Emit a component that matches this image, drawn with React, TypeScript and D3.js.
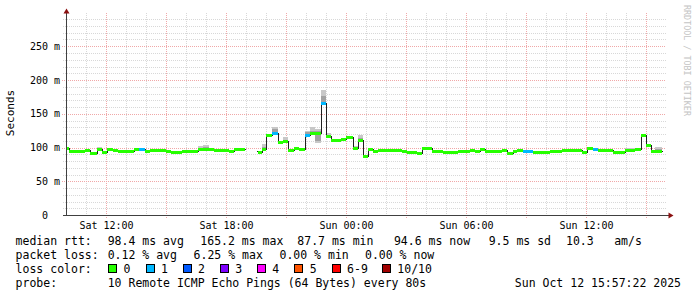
import React from 'react';
import * as d3 from 'd3';

// ---- data (hours since Sat 2025-10-11 00:00) ----
const stepStartHours = [
  9.99, 10.12, 10.66, 10.91, 11.16, 11.49, 11.74, 11.99, 12.32, 12.57,
  13.37, 13.62, 13.91, 14.16, 14.96, 15.21, 15.76, 16.54, 16.81, 17.09,
  17.34, 17.59, 18.12, 18.37, 18.62, 18.92, 19.46, 19.54, 19.76, 19.96,
  20.26, 20.54, 20.82, 21.07, 21.34, 21.59, 21.91, 22.17, 22.42, 22.71,
  22.96, 23.21, 23.71, 23.96, 24.29, 24.57, 24.79, 25.07, 25.32, 25.57,
  25.91, 26.41, 26.74, 26.99, 27.49, 27.74, 28.24, 28.82, 29.57, 30.16,
  30.41, 30.66, 30.91, 31.32, 31.74, 31.99, 32.29, 32.49, 32.79, 33.32,
  33.66, 34.16, 34.74, 35.16, 35.74, 35.99, 36.32, 36.57, 37.32, 37.91,
  38.41, 38.69, 38.96, 39.19, 39.41,
];
const lastStepEndHour = 39.74;
const medianMs: (number | null)[] = [
  99, 95.5, 94.5, 96.5, 92, 97.5, 93, 98.5, 96.5, 95.5,
  97.5, 97.5, 95, 97, 95.5, 94, 95.5, 98.5, 98.5, 98.5,
  97, 96, 95, 97.5, 98.5, null, 94.5, 94, 97.5, 119,
  121, 107.5, 109, 96, 100, 98.5, 118.5, 121, 121.5, 165.5,
  117, 111, 113, 115, 100, 111, 88, 98, 94.5, 96,
  97, 96, 95, 94, 92.5, 99, 94.5, 93, 94.5, 96,
  94.5, 97.5, 95.5, 94.5, 96, 92, 95.5, 96, 95.5, 93,
  94, 94.5, 96, 97, 93.5, 99, 97.5, 96.5, 93.5, 96,
  98.5, 118, 104, 94.5, 94.5,
];
// loss count (of 10 pings) per step; null = no loss data
const lossCount: (number | null)[] = [
  0, 0, 0, 0, 0, 0, 0, 0, 0, 0,
  0, 1, 0, 0, 0, 0, 0, 0, 0, 0,
  0, 0, 0, 0, 0, null, null, 0, 0, 0,
  1, 0, 0, 0, 0, 0, 1, 0, 0, 1,
  0, 0, 0, 0, 0, 0, 0, 0, 0, 0,
  0, 0, 0, 0, 0, 0, 0, 0, 0, 0,
  0, 0, 0, 0, 0, 0, 0, 0, 1, 0,
  0, 0, 0, 0, 0, 0, 1, 0, 0, 0,
  0, 0, 0, 0, 0,
];
// visible smoke (ping spread) per step
const smokeStep = [5, 17, 18, 28, 30, 32, 36, 37, 38, 39, 40, 44, 45, 79, 84];
const smokeLowMs = [96, 97, 97, 96, 119, 107, 117, 119, 107, 163, 115, 99, 110, 95, 94];
const smokeHighMs = [100.5, 102, 104, 105, 130.5, 115, 125, 130.5, 127, 184.5, 122, 102.5, 119, 100, 101];
const smokeInnerLowMs = [97, 98, 98, 97, 120, 108, 118, 120, 109, 164, 116, 99.5, 111, 96, 95];
const smokeInnerHighMs = [99, 100, 101, 101, 127, 111, 123, 125, 124, 177, 119, 101, 114, 98, 98];

const yTickValues = [0, 50, 100, 150, 200, 250];
const yTickLabels = ['0  ', '50 m', '100 m', '150 m', '200 m', '250 m'];
const xLabelHours = [12, 18, 24, 30, 36];
const xLabelTexts = ['Sat 12:00', 'Sat 18:00', 'Sun 00:00', 'Sun 06:00', 'Sun 12:00'];

const lossLegendLabels = ['0', '1', '2', '3', '4', '5', '6-9', '10/10'];
const lossLegendColors = ['#26ff00', '#00b8ff', '#0059ff', '#7e00ff', '#ff00ff', '#ff5500', '#ff0000', '#a10000'];

const rttLegend = ['median rtt:', '98.4 ms avg', '165.2 ms max', '87.7 ms min', '94.6 ms now', '9.5 ms sd', '10.3', 'am/s'];
const lossLegend = ['packet loss:', '0.12 % avg', '6.25 % max', '0.00 % min', '0.00 % now'];
const probeLegend = ['probe:', '10 Remote ICMP Echo Pings (64 Bytes) every 80s'];
const dateStamp = 'Sun Oct 12 15:57:22 2025';

const START_HOUR = 9.956;

function colorForLoss(l: number): string {
  if (l <= 5) return lossLegendColors[l];
  if (l < 10) return lossLegendColors[6];
  return lossLegendColors[7];
}

export default function App() {
  const x = d3.scaleLinear().domain([START_HOUR, START_HOUR + 30]).range([66, 666]);
  const y = d3.scaleLinear().domain([0, 300]).range([215, 12.5]);
  const gx = (h: number) => Math.floor(x(h)) + 0.5;
  const gy = (v: number) => Math.round(y(v)) + 0.5;
  const rx = (h: number) => Math.round(x(h));
  const ry = (v: number) => Math.round(y(v));

  const endOf = (i: number) => (i + 1 < stepStartHours.length ? stepStartHours[i + 1] : lastStepEndHour);

  // grid
  const minorH = d3.range(10, 300, 10).filter((v) => v % 50 !== 0);
  const majorH = d3.range(50, 300, 50);
  const hours = d3.range(10, 40, 1);
  const minorV = hours.filter((h) => h % 3 !== 0);
  const majorV = hours.filter((h) => h % 3 === 0);

  // median black step line
  type P = { h: number; v: number | null };
  const pts: P[] = [];
  medianMs.forEach((m, i) => {
    pts.push({ h: stepStartHours[i], v: m });
    const next = i + 1 < medianMs.length ? medianMs[i + 1] : null;
    if (m !== null && next === null) pts.push({ h: endOf(i), v: m });
  });
  const line = d3
    .line<P>()
    .defined((d) => d.v !== null)
    .x((d) => rx(d.h) + 0.5)
    .y((d) => ry(d.v as number) + 0.5)
    .curve(d3.curveStepAfter);

  const mono = "'DejaVu Sans Mono', monospace";
  const L1 = 245, L2 = 259, L3 = 273, L4 = 287;
  const rttX = [15.6, 107.7, 200.3, 297.3, 393.9, 488.7, 566, 614.2];
  const lossX = [15.6, 107.7, 193.6, 279.5, 365];
  const boxX = [108, 145.5, 182.5, 219.8, 256.8, 294.2, 331.6, 381.8];

  return (
    <div style={{ position: 'absolute', left: 0, top: 0 }}>
      <svg width={697} height={297} xmlns="http://www.w3.org/2000/svg" style={{ display: 'block', background: '#ffffff' }}>
        <rect x={0} y={0} width={697} height={297} fill="#ffffff" />
        {/* grid */}
        <g shapeRendering="crispEdges" strokeWidth={1}>
          {minorH.map((v) => (
            <line key={'mh' + v} x1={63} x2={666} y1={gy(v)} y2={gy(v)} stroke="#d8d8d8" strokeDasharray="1,1" />
          ))}
          {minorV.map((h) => (
            <line key={'mv' + h} x1={gx(h)} x2={gx(h)} y1={12.5} y2={217} stroke="#d8d8d8" strokeDasharray="1,1" />
          ))}
          {majorH.map((v) => (
            <line key={'Mh' + v} x1={62} x2={666} y1={gy(v)} y2={gy(v)} stroke="#f0a8a8" strokeDasharray="1,1" />
          ))}
          {majorV.map((h) => (
            <line key={'Mv' + h} x1={gx(h)} x2={gx(h)} y1={12.5} y2={218} stroke="#f0a8a8" strokeDasharray="1,1" />
          ))}
        </g>
        {/* smoke */}
        <g shapeRendering="crispEdges">
          {smokeStep.map((s, k) => (
            <g key={'sm' + k}>
              <rect x={rx(stepStartHours[s])} width={rx(endOf(s)) - rx(stepStartHours[s])} y={ry(smokeHighMs[k])} height={ry(smokeLowMs[k]) - ry(smokeHighMs[k])} fill="#c8c8c8" />
              <rect x={rx(stepStartHours[s])} width={rx(endOf(s)) - rx(stepStartHours[s])} y={ry(smokeInnerHighMs[k])} height={ry(smokeInnerLowMs[k]) - ry(smokeInnerHighMs[k])} fill="#a2a2a2" />
            </g>
          ))}
        </g>
        {/* median line */}
        <path d={line(pts) || ''} fill="none" stroke="#202020" strokeWidth={1} shapeRendering="crispEdges" />
        {/* loss-coloured median band */}
        <g shapeRendering="crispEdges">
          {medianMs.map((m, i) =>
            m === null || lossCount[i] === null ? null : (
              <rect key={'b' + i} x={rx(stepStartHours[i])} width={rx(endOf(i)) - rx(stepStartHours[i])} y={ry(m) - 1} height={3} fill={colorForLoss(lossCount[i] as number)} />
            )
          )}
        </g>
        {/* axes */}
        <g shapeRendering="crispEdges">
          <line x1={66.5} x2={66.5} y1={12} y2={216} stroke="#404040" />
          <line x1={63} x2={669} y1={215.5} y2={215.5} stroke="#404040" />
        </g>
        <path d="M66.5,8.5 L63.5,13.5 L69.5,13.5 Z" fill="#8b1010" />
        <path d="M673.5,215.5 L668.5,212.5 L668.5,218.5 Z" fill="#8b1010" />
        {/* y tick labels */}
        <g fontFamily={mono} fontSize={10} fill="#000">
          {yTickValues.map((v, i) => (
            <text key={'yl' + v} x={60} y={y(v) + 3.5} textAnchor="end" xmlSpace="preserve" style={{ whiteSpace: 'pre' }}>
              {yTickLabels[i]}
            </text>
          ))}
          {xLabelHours.map((h, i) => (
            <text key={'xl' + h} x={gx(h)} y={228.5} textAnchor="middle">
              {xLabelTexts[i]}
            </text>
          ))}
        </g>
        <text transform="translate(14,113) rotate(-90)" textAnchor="middle" fontFamily={mono} fontSize={11} fill="#000">
          Seconds
        </text>
        <text transform="translate(683.5,5) rotate(90)" textAnchor="start" fontFamily={mono} fontSize={8.4} fill="#c4c4c4">
          RRDTOOL / TOBI OETIKER
        </text>
        {/* legend */}
        <g fontFamily={mono} fontSize={11.5} fill="#000">
          {rttLegend.map((t, i) => (
            <text key={'r' + i} x={rttX[i]} y={L1}>{t}</text>
          ))}
          {lossLegend.map((t, i) => (
            <text key={'l' + i} x={lossX[i]} y={L2}>{t}</text>
          ))}
          <text x={15.6} y={L3}>loss color:</text>
          {lossLegendLabels.map((t, i) => (
            <g key={'lc' + i}>
              <rect x={boxX[i] + 0.5} y={L3 - 8.5} width={8} height={8} fill={lossLegendColors[i]} stroke="#000" strokeWidth={1} shapeRendering="crispEdges" />
              <text x={boxX[i] + 15.5} y={L3}>{t}</text>
            </g>
          ))}
          <text x={15.6} y={L4}>{probeLegend[0]}</text>
          <text x={107.7} y={L4}>{probeLegend[1]}</text>
          <text x={681} y={L4} textAnchor="end">{dateStamp}</text>
        </g>
      </svg>
    </div>
  );
}
